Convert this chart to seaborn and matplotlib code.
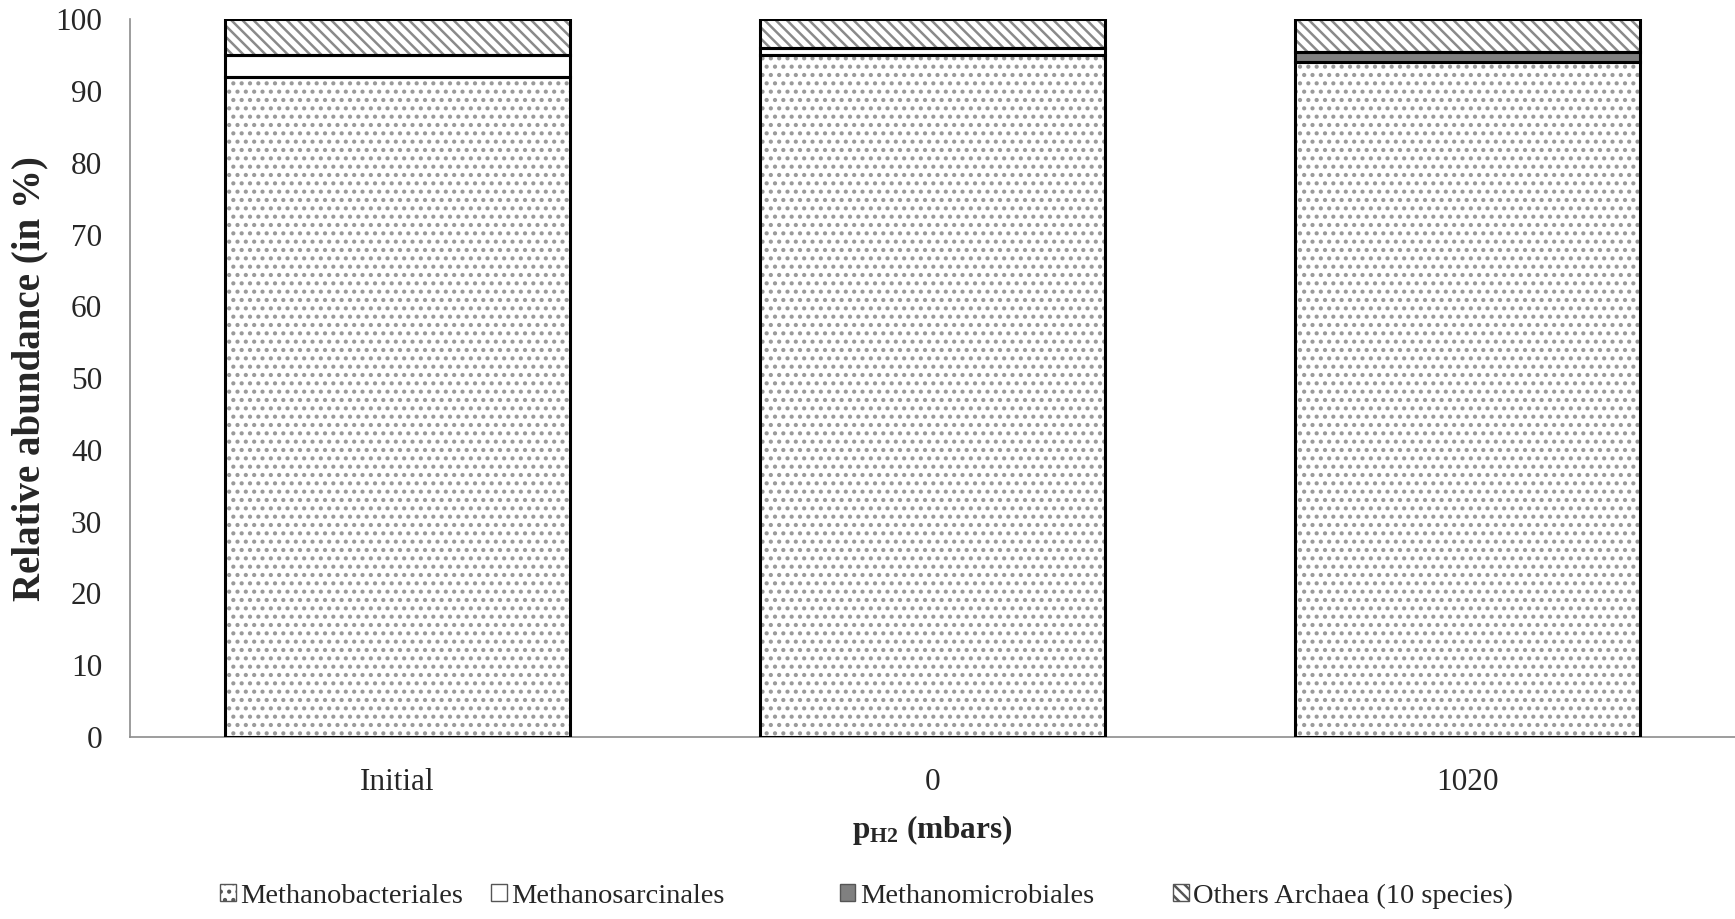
import matplotlib
matplotlib.use("Agg")
import matplotlib.pyplot as plt
import seaborn as sns
import pandas as pd
import numpy as np
from matplotlib.patches import Patch, Rectangle

categories = ["Initial", "0", "1020"]
series_names = ["Methanobacteriales", "Methanosarcinales", "Methanomicrobiales", "Others Archaea (10 species)"]
methanobacteriales = [92.0, 95.0, 94.0]
methanosarcinales = [3.0, 1.0, 0.0]
methanomicrobiales = [0.0, 0.0, 1.5]
others = [5.0, 4.0, 4.5]
y_ticks = [0, 10, 20, 30, 40, 50, 60, 70, 80, 90, 100]

sns.set_theme(style="white")
plt.rcParams["font.family"] = ["Liberation Serif", "DejaVu Serif"]
plt.rcParams["mathtext.fontset"] = "custom"
plt.rcParams["mathtext.rm"] = "Liberation Serif"
plt.rcParams["mathtext.bf"] = "Liberation Serif:bold"
plt.rcParams["hatch.linewidth"] = 1.8

fig = plt.figure(figsize=(17.35, 9.19), dpi=100)
ax = fig.add_axes([0.0749, 0.198, 0.9251, 0.781])

layers = [methanobacteriales, methanosarcinales, methanomicrobiales, others]
styles = [
    dict(face="white", hatch="..", hcol="#9a9a9a"),
    dict(face="white", hatch=None, hcol="black"),
    dict(face="#808080", hatch=None, hcol="black"),
    dict(face="white", hatch="\\\\\\", hcol="#8a8a8a"),
]
cum = np.cumsum(np.array(layers), axis=0)
bar_w = 0.645

for i in range(len(layers) - 1, -1, -1):
    df = pd.DataFrame({"cat": categories, "val": cum[i]})
    n_before = len(ax.patches)
    sns.barplot(data=df, x="cat", y="val", ax=ax, color=styles[i]["face"],
                width=bar_w, saturation=1, order=categories)
    for k, p in enumerate(ax.patches[n_before:]):
        p.set_facecolor(styles[i]["face"])
        p.set_linewidth(0)
        if styles[i]["hatch"]:
            p.set_hatch(styles[i]["hatch"])
            p.set_edgecolor(styles[i]["hcol"])
        x0 = p.get_x()
        w, h = p.get_width(), p.get_height()
        lower = cum[i - 1][k] if i > 0 else 0.0
        if h - lower > 0:
            ax.add_patch(Rectangle((x0, lower), w, h - lower, fill=False,
                                   edgecolor="black", linewidth=2.2, zorder=5))

ax.set_ylim(0, 100)
ax.set_xlim(-0.5, 2.5)
ax.set_yticks(y_ticks)
ax.tick_params(axis="y", labelsize=22.5, length=0, pad=20)
ax.tick_params(axis="x", labelsize=22.5, length=0, pad=22)
for s in ["top", "right"]:
    ax.spines[s].set_visible(False)
for s in ["left", "bottom"]:
    ax.spines[s].set_color("#8c8c8c")
    ax.spines[s].set_linewidth(1.2)
ax.set_ylabel("Relative abundance (in %)", fontsize=28, fontweight="bold", labelpad=5)
ax.set_xlabel(r"$\mathbf{p_{H2}}$ (mbars)", fontsize=22.5, fontweight="bold", labelpad=12)

legend_x = [0.127, 0.283, 0.484, 0.676]
for i, name in enumerate(series_names):
    h = Patch(facecolor=styles[i]["face"], edgecolor="#555555",
              hatch=styles[i]["hatch"], linewidth=1, label=name)
    fig.legend(handles=[h], loc="center left", bbox_to_anchor=(legend_x[i], 0.025),
               frameon=False, fontsize=20.5, handlelength=0.55, handleheight=0.55,
               handletextpad=0.15, borderpad=0, borderaxespad=0)

fig.savefig("out.png", dpi=100)
